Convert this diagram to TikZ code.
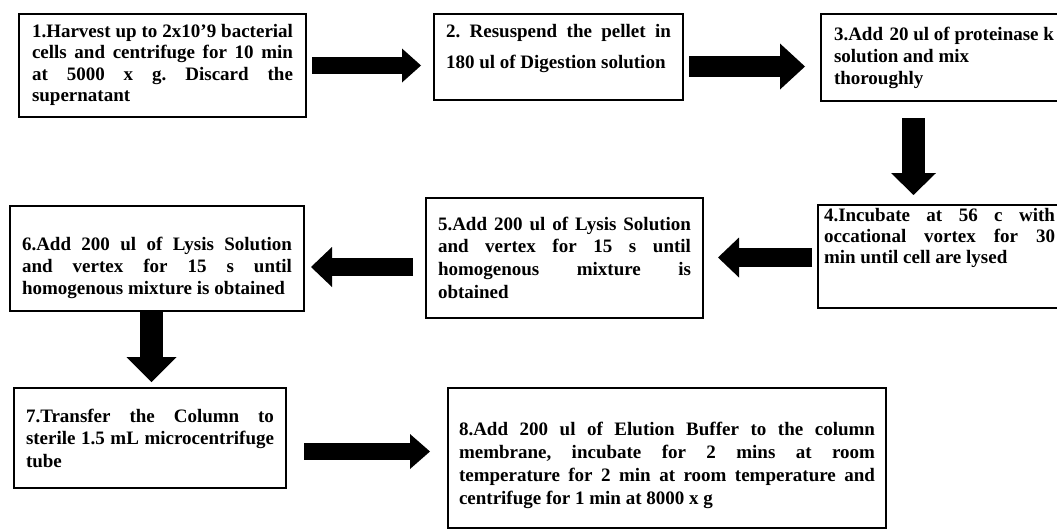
\documentclass[tikz,border=0pt]{standalone}
\usepackage{fontspec}
\setmainfont{Liberation Serif}
\usetikzlibrary{arrows.meta,calc}
\newcommand\jline[1]{\makebox[\linewidth][s]{#1}}
\frenchspacing
\begin{document}
\begin{tikzpicture}[x=1pt,y=-1pt,
  box/.style={draw=black, line width=2pt, anchor=north west, inner ysep=0pt,
    font=\fontsize{19}{22}\selectfont\bfseries\frenchspacing, text=black},
  flow/.style n args={3}{draw=black, line width=#1,
    -{Triangle[width=#2, length=#3, line width=0pt]}}]
\useasboundingbox (0,0) rectangle (1057,531);
\fill[white] (0,0) rectangle (1057,531);
\clip (0,0) rectangle (1057,531);

\node[box, inner xsep=13pt] (b1) at (18,13) {\parbox[c][103pt][t]{261pt}{\baselineskip=21.5pt\rule{0pt}{23pt}%
\jline{1.Harvest up to 2x10’9 bacterial}\\\jline{cells and centrifuge for 10 min}\\\jline{at 5000 x g. Discard the}\\supernatant}};

\node[box, inner xsep=12pt] (b2) at (433,13) {\parbox[c][86pt][t]{225pt}{\baselineskip=31pt\rule{0pt}{23pt}%
\jline{2. Resuspend the pellet in}\\180 ul of Digestion solution}};

\node[box, inner xsep=13pt] (b3) at (820,13) {\parbox[c][87pt][t]{224pt}{\baselineskip=22pt\rule{0pt}{26pt}%
3.Add\hspace{6.5pt}20 ul of proteinase k\\solution and mix\\thoroughly}};

\node[box, inner xsep=6pt] (b4) at (817,204) {\parbox[c][103pt][t]{231pt}{\baselineskip=21pt\rule{0pt}{16pt}%
\jline{4.Incubate at 56 c with}\\\jline{occational vortex for 30}\\min until cell are lysed}};

\node[box, inner xsep=12pt] (b5) at (425,197) {\parbox[c][120pt][t]{253pt}{\baselineskip=22.7pt\rule{0pt}{32pt}%
\jline{5.Add 200 ul of Lysis Solution}\\\jline{and vertex for 15 s until}\\\jline{homogenous mixture is}\\obtained}};

\node[box, inner xsep=12pt] (b6) at (9,205) {\parbox[c][105pt][t]{270pt}{\baselineskip=22pt\rule{0pt}{44pt}%
\jline{6.Add 200 ul of Lysis Solution}\\\jline{and vertex for 15 s until}\\homogenous mixture is obtained}};

\node[box, inner xsep=12pt] (b7) at (13,387) {\parbox[c][100pt][t]{248pt}{\baselineskip=22.5pt\rule{0pt}{34pt}%
\jline{7.Transfer the Column to}\\\jline{sterile 1.5 mL microcentrifuge}\\tube}};

\node[box, inner xsep=11pt] (b8) at (447,387) {\parbox[c][140pt][t]{416pt}{\baselineskip=23pt\rule{0pt}{47pt}%
\jline{8.Add 200 ul of Elution Buffer to the column}\\\jline{membrane, incubate for 2 mins at room}\\\jline{temperature for 2 min at room temperature and}\\centrifuge for 1 min at 8000 x g}};

\draw[flow={17pt}{34pt}{19pt}] ($(b1.east)+(5,0)$) -- ($(b1.east -| b2.west)+(-12,0)$);
\draw[flow={21pt}{46pt}{25pt}] ($(b2.east)+(5,9.5)$) -- ($(b2.east -| b3.west)+(-15,9.5)$);
\draw[flow={23pt}{45pt}{22pt}] ($(b3.south west)+(93.5,16)$) -- ($(b3.south west |- b4.north west)+(93.5,-9)$);
\draw[flow={19pt}{40pt}{21pt}] ($(b4.west)+(-5,1)$) -- ($(b4.west -| b5.east)+(14,1)$);
\draw[flow={18pt}{40pt}{21pt}] ($(b5.west)+(-12,9)$) -- ($(b5.west -| b6.east)+(6,9)$);
\draw[flow={23pt}{50pt}{25pt}] ($(b6.south west)+(142.5,0)$) -- ($(b6.south west |- b7.north west)+(142.5,-5)$);
\draw[flow={17pt}{35pt}{20pt}] ($(b7.east)+(17,13.5)$) -- ($(b7.east -| b8.west)+(-17,13.5)$);
\end{tikzpicture}
\end{document}
